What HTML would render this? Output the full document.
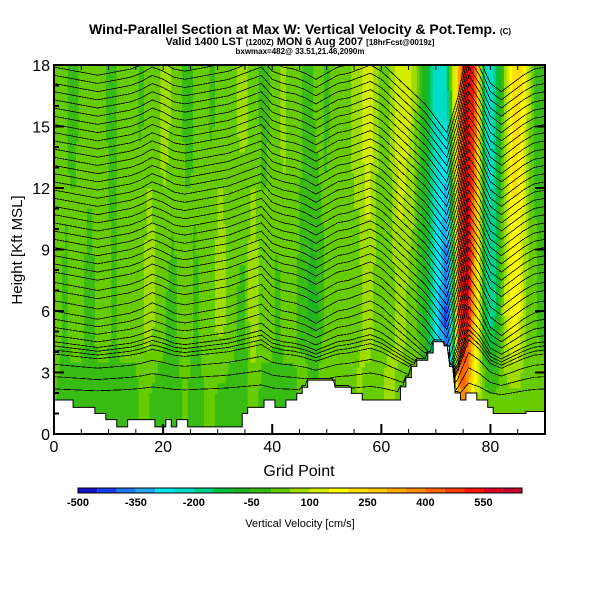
<!DOCTYPE html>
<html><head><meta charset="utf-8"><style>
body{margin:0;background:#fff;width:600px;height:600px;overflow:hidden;font-family:"Liberation Sans",sans-serif}
svg{display:block}
</style></head><body>
<svg id="chart" width="600" height="600" viewBox="0 0 600 600">
<rect width="600" height="600" fill="#fff"/>
<text x="300" y="34" text-anchor="middle" font-size="14" font-weight="bold" font-family="Liberation Sans, sans-serif">Wind-Parallel Section at Max W: Vertical Velocity &amp; Pot.Temp. <tspan font-size="8">(C)</tspan></text>
<text x="300" y="45" text-anchor="middle" font-size="11" font-weight="bold">Valid 1400 LST <tspan font-size="8">(1200Z)</tspan> MON 6 Aug 2007 <tspan font-size="8">[18hrFcst@0019z]</tspan></text>
<text x="300" y="54" text-anchor="middle" font-size="8" font-weight="bold">bxwmax=482@ 33.51,21.46,2090m</text>
<defs><clipPath id="pc"><rect x="54" y="65" width="491" height="369"/></clipPath></defs>
<g id="field" clip-path="url(#pc)"></g>
<g id="terrain" clip-path="url(#pc)"></g>
<g id="contours" clip-path="url(#pc)"></g>
<g id="axes"></g>
<text transform="translate(22,250) rotate(-90)" text-anchor="middle" font-size="15">Height [Kft MSL]</text>
<text x="299" y="476" text-anchor="middle" font-size="16">Grid Point</text>
<g id="cbar"></g>
<text x="300" y="527" text-anchor="middle" font-size="11">Vertical Velocity [cm/s]</text>
</svg>
<script>
const palette=["#1010c8","#1a3cf0","#1e78f0","#22a8f0","#00e6f0","#00dcc8","#00d08c","#00c040","#20b41e","#38bb12","#66cc00","#a0dc00","#d4ec00","#ffff00","#ffe000","#ffc800","#ffa800","#ff8c00","#ff6400","#ff3c00","#ff1400","#e00020","#c80030"];
const cbarLabels=[-500,-350,-200,-50,100,250,400,550];
const terrain=[1.66,1.66,1.66,1.66,1.3,1.3,1.3,1.3,1.0,1.0,0.7,0.7,0.35,0.35,0.7,0.7,0.7,0.7,0.7,0.35,0.35,0.7,0.35,0.7,0.7,0.35,0.35,0.35,0.35,0.35,0.35,0.35,0.35,0.35,0.35,1.0,1.3,1.3,1.3,1.66,1.66,1.3,1.3,1.66,1.66,1.98,2.28,2.63,2.63,2.63,2.63,2.63,2.28,2.28,2.28,1.98,1.98,1.66,1.66,1.66,1.66,1.66,1.66,1.66,2.3,2.75,3.3,3.6,3.6,3.95,4.5,4.5,4.3,3.3,2.0,1.66,2.0,2.0,1.66,1.66,1.3,1.0,1.0,1.0,1.0,1.0,1.0,1.1,1.1,1.1,1.1];
const wLow=[25,-20,-20,-20,-20,-20,-20,-20,-20,-20,
 -20,-20,-20,-20,-20,-20,25,25,-20,-20,
 -20,-20,-20,-20,25,-20,-20,-20,25,25,
 -20,-20,-20,-20,-20,-20,25,25,-20,-20,
 -20,-20,-20,-20,-20,25,25,25,25,25,
 25,25,25,25,25,25,80,25,25,25,
 25,80,80,25,25,25,25,25,-20,-80,
 -200,-300,-400,-300,300,400,250,130,80,25,
 25,25,25,25,25,25,25,25,25,25,25];
const wMid=[25,25,-20,25,25,25,-20,-20,25,25,
 25,-20,25,25,25,25,25,80,80,25,
 25,-20,-20,25,25,25,-20,25,25,25,
 80,80,25,25,-20,-20,80,80,25,25,
 25,-20,25,25,25,-20,-20,-70,-70,-20,
 25,25,25,25,25,25,25,80,80,25,
 25,25,25,80,80,25,25,-20,-80,-150,
 -250,-330,-430,-200,420,560,560,300,120,-130,
 -200,-150,25,130,200,180,80,25,25,-20,-20];
const wTop=[25,25,25,-20,-20,25,25,25,25,25,
 -20,-20,25,25,25,25,-20,25,25,25,
 80,80,25,25,-20,-20,25,25,25,-20,
 25,25,25,25,80,80,25,25,-20,-20,
 25,25,80,25,25,25,-20,-20,25,25,
 -20,25,25,25,25,80,80,130,130,80,
 25,25,80,130,130,130,80,-20,-80,-150,
 -220,-220,-220,80,250,480,560,520,200,-220,
 -220,-180,-50,120,200,220,200,80,-20,-20,-20];
const levels=[2.2,2.8,3.4,3.9,4.1,4.3,4.5,4.8,5.2,5.6,6.0,6.5,7.0,7.4,7.9,8.3,8.7,9.1,9.5,9.9,10.3,10.7,11.1,11.5,11.9,12.3,12.7,13.1,13.5,13.9,14.3,14.7,15.1,15.5,15.9,16.3,16.7,17.1,17.5,17.9];
const disp=[0,-0.1,-0.2,-0.3,-0.4,-0.3,-0.2,-0.1,0.1,0.4,0.2,-0.1,-0.2,-0.1,0,0.1,0.2,0.4,0.6,0.8,0.2,0,-0.1,-0.3,-0.6,-0.3,0,0.1,0.3,0.5,0.2,-0.3,-0.8,-1.3,-1.8,-2.5,-3.2,-1.5,1.2,0.4,-0.8,-1.2,-0.8,-0.4,-0.1,0];
const xTicks=[0,20,40,60,80];
const yTicks=[0,3,6,9,12,15,18];

const NS="http://www.w3.org/2000/svg";
const X0=54,X1=545,Y0=434,Y1=65;
const sx=g=>X0+(g/90)*(X1-X0);
const sy=z=>Y0-(z/18)*(Y0-Y1);
function mk(tag,attrs,parent){const e=document.createElementNS(NS,tag);for(const k in attrs)e.setAttribute(k,attrs[k]);parent.appendChild(e);return e;}
function interp2(a,g){const p=g/2,i=Math.min(Math.floor(p),a.length-2),t=p-i;return a[i]*(1-t)+a[i+1]*t;}
function interp1(a,g){const i=Math.min(Math.floor(g),a.length-2),t=g-i;return a[i]*(1-t)+a[i+1]*t;}
function colorFor(v){let i=Math.floor((v+500)/50);i=Math.max(0,Math.min(palette.length-1,i));return palette[i];}
function wAt(g,z){const lo=interp1(wLow,g),mi=interp1(wMid,g),hi=interp1(wTop,g);
 if(z<=1.5)return lo;if(z<=6)return lo+(mi-lo)*(z-1.5)/4.5;if(z<=17)return mi+(hi-mi)*(z-6)/11;return hi;}
const field=document.getElementById('field');
for(let g=0;g<90;g+=0.5){for(let z=0;z<18;z+=0.25){
 const r=mk('rect',{x:sx(g).toFixed(2),y:sy(z+0.25).toFixed(2),width:(sx(0.5)-sx(0)+0.4).toFixed(2),height:(sy(0)-sy(0.25)+0.4).toFixed(2),fill:colorFor(wAt(g+0.25,z+0.125))},field);
 
 
}}
let pts=`${sx(0)},${sy(0)} `;
terrain.forEach((h,i)=>{pts+=`${sx(i-0.5)},${sy(h)} ${sx(i+0.5)},${sy(h)} `;});
pts+=`${sx(91)},${sy(0)}`;
const tp=mk('polygon',{points:pts,fill:'#fff',stroke:'#000','stroke-width':1},document.getElementById('terrain'));


const cg=document.getElementById('contours');
levels.forEach(lv=>{let d='';
 for(let g=0;g<=90;g+=0.5){const ter=terrain[Math.round(g)];const att=Math.min(1,Math.max(0.15,(lv-1)/5));
  let z=lv+interp2(disp,g)*att; if(z<ter+0.08)z=ter+0.08;
  d+=(g===0?'M':'L')+sx(g).toFixed(1)+','+sy(z).toFixed(1);}
 const p=mk('path',{d:d,fill:'none',stroke:'#000','stroke-width':0.8,'shape-rendering':'crispEdges'},cg);
 
 
});
const ax=document.getElementById('axes');
mk('rect',{x:X0,y:Y1,width:X1-X0,height:Y0-Y1,fill:'none',stroke:'#000','stroke-width':2},ax);
for(let z=0;z<=18;z++){const maj=z%3===0;mk('line',{x1:X0,x2:X0+(maj?10:5),y1:sy(z),y2:sy(z),stroke:'#000','stroke-width':2},ax);
 if(maj)mk('line',{x1:X1,x2:X1-10,y1:sy(z),y2:sy(z),stroke:'#000','stroke-width':2},ax);}
for(let g=0;g<=90;g+=5){const maj=g%20===0;mk('line',{x1:sx(g),x2:sx(g),y1:Y0,y2:Y0-(maj?10:5),stroke:'#000','stroke-width':maj?2:1},ax);
 mk('line',{x1:sx(g),x2:sx(g),y1:Y1,y2:Y1+5,stroke:'#000','stroke-width':1},ax);}
yTicks.forEach(v=>{const t=mk('text',{x:X0-4,y:sy(v)+6,'text-anchor':'end','font-size':16},ax);t.textContent=v;
 
 });
xTicks.forEach(v=>{const t=mk('text',{x:sx(v),y:Y0+18,'text-anchor':'middle','font-size':16},ax);t.textContent=v;
 
 });
const cb=document.getElementById('cbar');const cw=444/palette.length;
palette.forEach((c,i)=>{const r=mk('rect',{x:78+i*cw,y:488,width:cw,height:5,fill:c},cb);
 
 });
mk('rect',{x:78,y:488,width:444,height:5,fill:'none',stroke:'#000','stroke-width':1},cb);
cbarLabels.forEach((v,i)=>{const t=mk('text',{x:78+i*3*cw,y:506,'text-anchor':'middle','font-size':11,'font-weight':'bold'},cb);t.textContent=v;
 
 });
</script>
</body></html>
